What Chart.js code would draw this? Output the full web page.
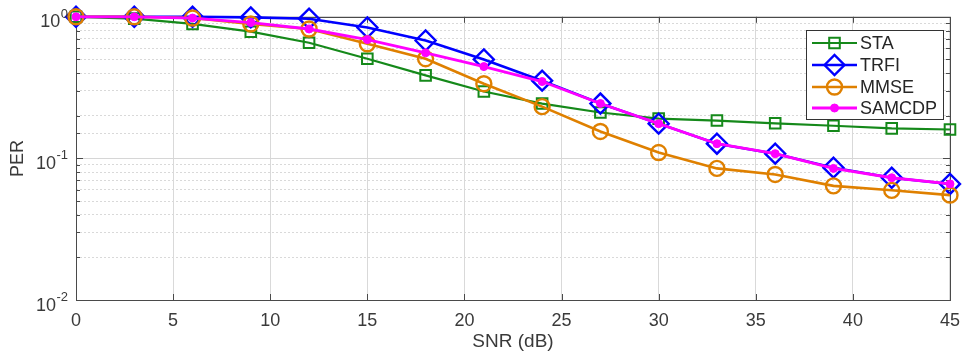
<!DOCTYPE html>
<html>
<head>
<meta charset="utf-8">
<script src="https://cdn.jsdelivr.net/npm/chart.js@4/dist/chart.umd.min.js"></script>
<style>
  html, body { margin: 0; padding: 0; background: #fff; }
  #wrap { width: 970px; height: 356px; position: relative; }
</style>
</head>
<body>
<div id="wrap"><canvas id="c" width="970" height="356"></canvas></div>
<script>
// SNR sweep (dB) and packet error rate of each receiver
const snr    = [0, 3, 6, 9, 12, 15, 18, 21, 24, 27, 30, 33, 36, 39, 42, 45];
const sta    = [1.0, 0.97, 0.89, 0.785, 0.656, 0.505, 0.386, 0.297, 0.244, 0.211, 0.191, 0.185, 0.177, 0.170, 0.163, 0.160];
const trfi   = [1.0, 1.0, 1.0, 0.99, 0.97, 0.84, 0.68, 0.50, 0.354, 0.244, 0.176, 0.127, 0.108, 0.086, 0.073, 0.066];
const mmse   = [1.0, 1.0, 0.98, 0.89, 0.82, 0.645, 0.506, 0.337, 0.232, 0.155, 0.110, 0.085, 0.077, 0.064, 0.0595, 0.055];
const samcdp = [1.0, 1.0, 0.98, 0.91, 0.82, 0.69, 0.557, 0.445, 0.349, 0.244, 0.176, 0.127, 0.108, 0.085, 0.073, 0.066];
const xTicks = [0, 5, 10, 15, 20, 25, 30, 35, 40, 45];
// decade tick labels: mantissa base and exponent
const yDecades  = [1, 0.1, 0.01];
const yExponent = ['0', '-1', '-2'];

const FONT = '"Liberation Sans", Arial, Helvetica, sans-serif';
const TEXT = '#3a3a3a';

const toPoints = (ys) => ys.map((v, i) => ({ x: snr[i], y: v }));
const isDecade = (v) => Math.abs(Math.log10(v) - Math.round(Math.log10(v))) < 1e-9;

// Axes frame with inward tick marks
const framePlugin = {
  id: 'frame',
  beforeDatasetsDraw(chart) {
    const { ctx, chartArea: a, scales: { x, y } } = chart;
    ctx.save();
    ctx.strokeStyle = '#4a4a4a';
    ctx.lineWidth = 1;
    ctx.beginPath();
    xTicks.forEach(v => {
      const px = Math.round(x.getPixelForValue(v)) + 0.5;
      ctx.moveTo(px, a.bottom); ctx.lineTo(px, a.bottom - 6);
      ctx.moveTo(px, a.top); ctx.lineTo(px, a.top + 6);
    });
    y.ticks.forEach(t => {
      const py = Math.round(y.getPixelForValue(t.value)) + 0.5;
      const len = isDecade(t.value) ? 7 : 4;
      ctx.moveTo(a.left, py); ctx.lineTo(a.left + len, py);
      ctx.moveTo(a.right, py); ctx.lineTo(a.right - len, py);
    });
    ctx.stroke();
    ctx.strokeRect(Math.round(a.left) + 0.5, Math.round(a.top) + 0.5,
                   Math.round(a.width), Math.round(a.height));
    ctx.restore();
  }
};

// Power-of-ten labels for the log axis, with raised exponents
const decadeLabelPlugin = {
  id: 'decadeLabels',
  afterDraw(chart) {
    const { ctx, scales: { y } } = chart;
    ctx.save();
    ctx.fillStyle = TEXT;
    ctx.textBaseline = 'alphabetic';
    yDecades.forEach((v, i) => {
      const py = y.getPixelForValue(v);
      ctx.font = '13px ' + FONT;
      const ew = ctx.measureText(yExponent[i]).width;
      const right = 68;
      ctx.textAlign = 'left';
      ctx.fillText(yExponent[i], right - ew, py + 1);
      ctx.font = '18px ' + FONT;
      ctx.textAlign = 'right';
      ctx.fillText('10', right - ew - 0.5, py + 10.5);
    });
    ctx.restore();
  }
};

// Legend box in the upper right of the plot area
const boxLegendPlugin = {
  id: 'boxLegend',
  afterDraw(chart) {
    const { ctx } = chart;
    const left = 806, top = 30, w = 137, h = 89;
    ctx.save();
    ctx.fillStyle = '#ffffff';
    ctx.fillRect(left, top, w, h);
    ctx.strokeStyle = '#333333';
    ctx.lineWidth = 1;
    ctx.strokeRect(left + 0.5, top + 0.5, w, h);
    const rowY = [43, 65, 87, 108];
    chart.data.datasets.forEach((ds, i) => {
      const yy = rowY[i];
      ctx.strokeStyle = ds.borderColor;
      ctx.lineWidth = ds.borderWidth;
      ctx.beginPath();
      ctx.moveTo(812, yy); ctx.lineTo(857, yy);
      ctx.stroke();
      ctx.fillStyle = ds.pointBackgroundColor;
      ctx.strokeStyle = ds.pointBorderColor;
      ctx.lineWidth = ds.pointBorderWidth;
      Chart.helpers.drawPoint(ctx, {
        pointStyle: ds.pointStyle, radius: ds.pointRadius, rotation: 0,
        borderWidth: ds.pointBorderWidth
      }, 834.5, yy);
      ctx.fillStyle = '#262626';
      ctx.font = '18px ' + FONT;
      ctx.textBaseline = 'middle';
      ctx.textAlign = 'left';
      ctx.fillText(ds.label, 860, yy + 1);
    });
    ctx.restore();
  }
};

const GREEN = '#15891a', BLUE = '#0000ff', ORANGE = '#df8000', MAGENTA = '#ff00ff';

new Chart(document.getElementById('c'), {
  type: 'line',
  data: {
    datasets: [
      { label: 'STA', data: toPoints(sta), borderColor: GREEN, borderWidth: 2.2,
        pointStyle: 'rect', pointRadius: 7.5, pointBorderWidth: 2,
        pointBorderColor: GREEN, pointBackgroundColor: 'rgba(0,0,0,0)', order: 4 },
      { label: 'TRFI', data: toPoints(trfi), borderColor: BLUE, borderWidth: 2.6,
        pointStyle: 'rectRot', pointRadius: 10, pointBorderWidth: 2.4,
        pointBorderColor: BLUE, pointBackgroundColor: 'rgba(0,0,0,0)', order: 3 },
      { label: 'MMSE', data: toPoints(mmse), borderColor: ORANGE, borderWidth: 2.6,
        pointStyle: 'circle', pointRadius: 7.5, pointBorderWidth: 2.4,
        pointBorderColor: ORANGE, pointBackgroundColor: 'rgba(0,0,0,0)', order: 2 },
      { label: 'SAMCDP', data: toPoints(samcdp), borderColor: MAGENTA, borderWidth: 2.8,
        pointStyle: 'circle', pointRadius: 4, pointBorderWidth: 1,
        pointBorderColor: MAGENTA, pointBackgroundColor: MAGENTA, order: 1 }
    ]
  },
  options: {
    responsive: false,
    animation: false,
    devicePixelRatio: 1,
    layout: { padding: { left: 0, right: 12, top: 16, bottom: 0 } },
    elements: { line: { tension: 0, fill: false } },
    datasets: { line: { clip: false } },
    plugins: { legend: { display: false }, tooltip: { enabled: false } },
    scales: {
      x: {
        type: 'linear', min: 0, max: 45,
        afterBuildTicks: (scale) => { scale.ticks = xTicks.map(v => ({ value: v })); },
        afterFit: (scale) => { scale.height = 56; },
        ticks: { color: TEXT, font: { family: FONT, size: 18 }, padding: 10, maxRotation: 0 },
        grid: { color: '#d9d9d9', lineWidth: 1, drawTicks: false },
        border: { display: false },
        title: { display: true, text: 'SNR (dB)', color: TEXT,
                 font: { family: FONT, size: 19 }, padding: { top: 0, bottom: 3 } }
      },
      y: {
        type: 'logarithmic', min: 0.01, max: 1,
        afterFit: (scale) => { scale.width = 76; },
        ticks: {
          color: TEXT, font: { family: FONT, size: 18 }, padding: 6, autoSkip: false,
          callback: () => ''
        },
        grid: {
          drawTicks: false, lineWidth: 1,
          color: (c) => (c.tick && isDecade(c.tick.value)) ? '#d6d6d6' : '#d9d9d9'
        },
        border: {
          display: false,
          dash: (c) => (c.tick && isDecade(c.tick.value)) ? [] : [2, 2]
        },
        title: { display: true, text: 'PER', color: TEXT,
                 font: { family: FONT, size: 18 }, padding: { top: 7, bottom: 0 } }
      }
    }
  },
  plugins: [framePlugin, decadeLabelPlugin, boxLegendPlugin]
});
</script>
</body>
</html>
